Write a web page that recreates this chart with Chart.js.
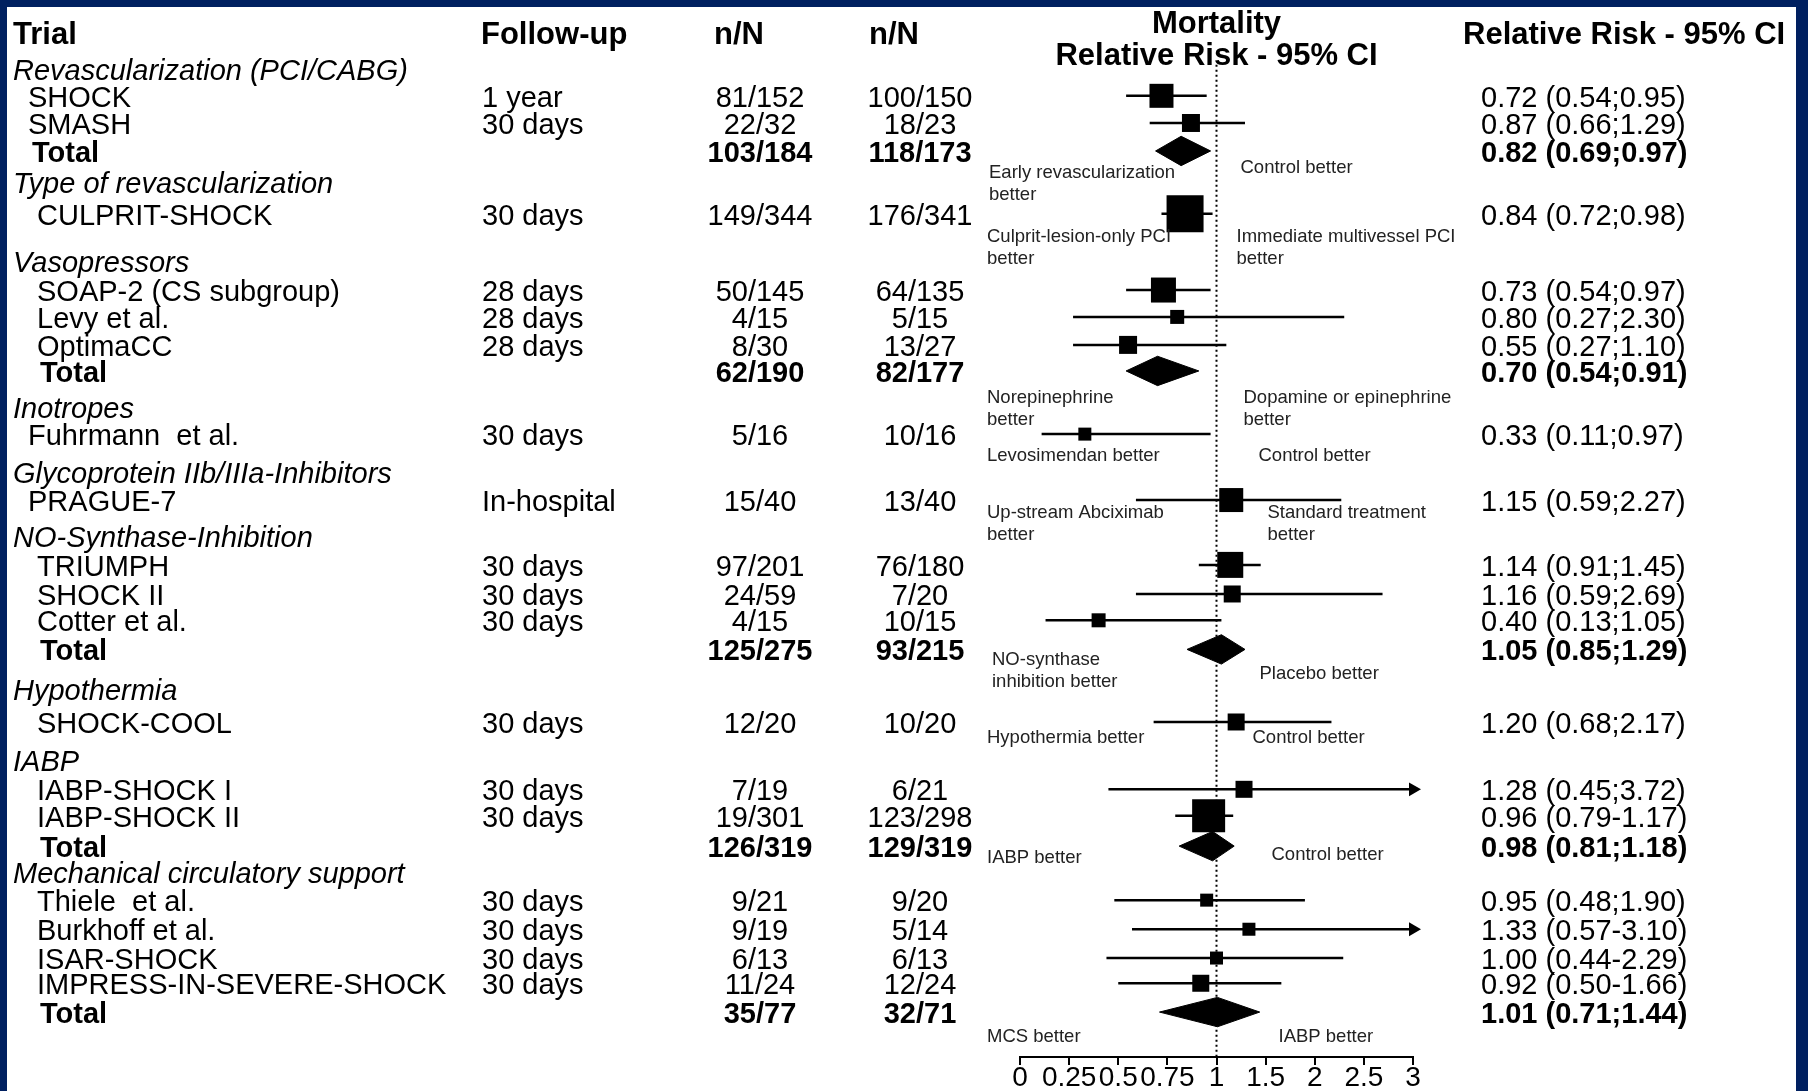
<!DOCTYPE html>
<html>
<head>
<meta charset="utf-8">
<title>Mortality – Relative Risk (95% CI) forest plot</title>
<script src="https://cdn.jsdelivr.net/npm/chart.js@4.4.1/dist/chart.umd.min.js"></script>
<style>
  html, body { margin: 0; padding: 0; background: #ffffff; }
  #wrap { position: relative; width: 1808px; height: 1091px; }
  canvas { display: block; }
</style>
</head>
<body>
<div id="wrap"><canvas id="chart"></canvas></div>
<script>
// ================= DATA =================
const columnHeaders = ['Trial', 'Follow-up', 'n/N', 'n/N', 'Relative Risk - 95% CI'];
const plotTitle = ['Mortality', 'Relative Risk - 95% CI'];

const trialLabels = [
  'Revascularization (PCI/CABG)', 'SHOCK', 'SMASH', 'Total',
  'Type of revascularization', 'CULPRIT-SHOCK',
  'Vasopressors', 'SOAP-2 (CS subgroup)', 'Levy et al.', 'OptimaCC', 'Total',
  'Inotropes', 'Fuhrmann  et al.',
  'Glycoprotein IIb/IIIa-Inhibitors', 'PRAGUE-7',
  'NO-Synthase-Inhibition', 'TRIUMPH', 'SHOCK II', 'Cotter et al.', 'Total',
  'Hypothermia', 'SHOCK-COOL',
  'IABP', 'IABP-SHOCK I', 'IABP-SHOCK II', 'Total',
  'Mechanical circulatory support', 'Thiele  et al.', 'Burkhoff et al.', 'ISAR-SHOCK', 'IMPRESS-IN-SEVERE-SHOCK', 'Total'
];
const rowKinds = [
  'group', 'study', 'study', 'total',
  'group', 'study',
  'group', 'study', 'study', 'study', 'total',
  'group', 'study',
  'group', 'study',
  'group', 'study', 'study', 'study', 'total',
  'group', 'study',
  'group', 'study', 'study', 'total',
  'group', 'study', 'study', 'study', 'study', 'total'
];
const followUp = [
  '', '1 year', '30 days', '',
  '', '30 days',
  '', '28 days', '28 days', '28 days', '',
  '', '30 days',
  '', 'In-hospital',
  '', '30 days', '30 days', '30 days', '',
  '', '30 days',
  '', '30 days', '30 days', '',
  '', '30 days', '30 days', '30 days', '30 days', ''
];
const eventsTreatment = [
  '', '81/152', '22/32', '103/184',
  '', '149/344',
  '', '50/145', '4/15', '8/30', '62/190',
  '', '5/16',
  '', '15/40',
  '', '97/201', '24/59', '4/15', '125/275',
  '', '12/20',
  '', '7/19', '19/301', '126/319',
  '', '9/21', '9/19', '6/13', '11/24', '35/77'
];
const eventsControl = [
  '', '100/150', '18/23', '118/173',
  '', '176/341',
  '', '64/135', '5/15', '13/27', '82/177',
  '', '10/16',
  '', '13/40',
  '', '76/180', '7/20', '10/15', '93/215',
  '', '10/20',
  '', '6/21', '123/298', '129/319',
  '', '9/20', '5/14', '6/13', '12/24', '32/71'
];
const relRisk = [
  null, 0.72, 0.87, 0.82,
  null, 0.84,
  null, 0.73, 0.80, 0.55, 0.70,
  null, 0.33,
  null, 1.15,
  null, 1.14, 1.16, 0.40, 1.05,
  null, 1.20,
  null, 1.28, 0.96, 0.98,
  null, 0.95, 1.33, 1.00, 0.92, 1.01
];
const ciLower = [
  null, 0.54, 0.66, 0.69,
  null, 0.72,
  null, 0.54, 0.27, 0.27, 0.54,
  null, 0.11,
  null, 0.59,
  null, 0.91, 0.59, 0.13, 0.85,
  null, 0.68,
  null, 0.45, 0.79, 0.81,
  null, 0.48, 0.57, 0.44, 0.50, 0.71
];
const ciUpper = [
  null, 0.95, 1.29, 0.97,
  null, 0.98,
  null, 0.97, 2.30, 1.10, 0.91,
  null, 0.97,
  null, 2.27,
  null, 1.45, 2.69, 1.05, 1.29,
  null, 2.17,
  null, 3.72, 1.17, 1.18,
  null, 1.90, 3.10, 2.29, 1.66, 1.44
];
const ciSeparator = [
  '', ';', ';', ';',
  '', ';',
  '', ';', ';', ';', ';',
  '', ';',
  '', ';',
  '', ';', ';', ';', ';',
  '', ';',
  '', ';', '-', ';',
  '', ';', '-', '-', '-', ';'
];
const xTickValues = [0, 0.25, 0.5, 0.75, 1, 1.5, 2, 2.5, 3];
const xTickLabels = ['0', '0.25', '0.5', '0.75', '1', '1.5', '2', '2.5', '3'];

const annotations = [
  { left: ['Early revascularization', 'better'], right: ['Control better'], leftRow: 3.75, rightRow: 3.57, leftDx: -31, rightDx: 24 },
  { left: ['Culprit-lesion-only PCI', 'better'], right: ['Immediate multivessel PCI', 'better'], leftRow: 6.06, rightRow: 6.06, leftDx: -33, rightDx: 20 },
  { left: ['Norepinephrine', 'better'], right: ['Dopamine or epinephrine', 'better'], leftRow: 11.88, rightRow: 11.88, leftDx: -33, rightDx: 27 },
  { left: ['Levosimendan better'], right: ['Control better'], leftRow: 13.97, rightRow: 13.97, leftDx: -33, rightDx: 42 },
  { left: ['Up-stream Abciximab', 'better'], right: ['Standard treatment', 'better'], leftRow: 16.03, rightRow: 16.03, leftDx: -33, rightDx: 51 },
  { left: ['NO-synthase', 'inhibition better'], right: ['Placebo better'], leftRow: 21.34, rightRow: 21.84, leftDx: -28, rightDx: 43 },
  { left: ['Hypothermia better'], right: ['Control better'], leftRow: 24.15, rightRow: 24.15, leftDx: -33, rightDx: 36 },
  { left: ['IABP better'], right: ['Control better'], leftRow: 28.48, rightRow: 28.38, leftDx: -33, rightDx: 55 },
  { left: ['MCS better'], right: ['IABP better'], leftRow: 34.95, rightRow: 34.95, leftDx: -33, rightDx: 62 }
];

// ================= LAYOUT / STYLE =================
const rowPos = [
  0, 0.97, 1.95, 2.96,
  4.08, 5.23,
  6.93, 7.98, 8.95, 9.96, 10.9,
  12.2, 13.18,
  14.55, 15.56,
  16.86, 17.9, 18.95, 19.9, 20.95,
  22.38, 23.57,
  24.95, 26.0, 26.95, 28.05,
  28.99, 30.0, 31.05, 32.09, 33.0, 34.04
];
const labelIndent = [
  13, 28, 28, 32,
  13, 37,
  13, 37, 37, 37, 40,
  13, 28,
  13, 28,
  13, 37, 37, 37, 40,
  13, 37,
  13, 37, 37, 40,
  13, 37, 37, 37, 37, 40
];
const markerSide = [
  null, 24, 18, null,
  null, 37,
  null, 25, 14, 18, null,
  null, 13,
  null, 24,
  null, 26, 17, 14, null,
  null, 17,
  null, 17, 33, null,
  null, 13, 13, 13, 17, null
];
const HEADER_ROW = -1.2;
const Y_MIN = 0.15, Y_MAX = 35.66;
const REF_TOP = -0.15;
const DIAMOND_HALF = 0.53;
const TEXT_DY = 3;
const headerX = [13, 481, 714, 869, 1463];
const followUpX = 482, col1X = 760, col2X = 920, rrX = 1481;
const FONT = "'Liberation Sans', Arial, Helvetica, sans-serif";
const font = (size, weight = 'normal', style = 'normal') => `${style} ${weight} ${size}px ${FONT}`;

// ================= CUSTOM SPLIT SCALE (0-1 and 1-3 take equal width) =================
class SplitScale extends Chart.LinearScale {
  toU(v) { return v <= 1 ? v : 1 + (v - 1) / 2; }
  fromU(u) { return u <= 1 ? u : 1 + (u - 1) * 2; }
  determineDataLimits() {
    super.determineDataLimits();
    this.min = this.toU(this.min);
    this.max = this.toU(this.max);
  }
  buildTicks() { return xTickValues.map(v => ({ value: v })); }
  getPixelForValue(v) {
    if (v === null || v === undefined || isNaN(v)) return NaN;
    return super.getPixelForValue(this.toU(v));
  }
  getValueForPixel(p) { return this.fromU(super.getValueForPixel(p)); }
}
SplitScale.id = 'split';
SplitScale.defaults = Chart.LinearScale.defaults;
Chart.register(SplitScale);

// ================= DATASETS =================
const studyIdx = rowKinds.map((k, i) => (k === 'study' ? i : -1)).filter(i => i >= 0);
const totalIdx = rowKinds.map((k, i) => (k === 'total' ? i : -1)).filter(i => i >= 0);
const X_MAX = xTickValues[xTickValues.length - 1];

const datasets = [];
datasets.push({
  label: 'Trials',
  data: studyIdx.map(i => ({ x: relRisk[i], y: rowPos[i] })),
  pointStyle: 'rect',
  pointRadius: studyIdx.map(i => markerSide[i] / Math.SQRT2),
  pointBackgroundColor: '#000',
  pointBorderWidth: 0,
  showLine: false,
  clip: false
});
totalIdx.forEach(i => {
  const r = rowPos[i];
  datasets.push({
    label: 'Pooled ' + i,
    data: [
      { x: ciLower[i], y: r },
      { x: relRisk[i], y: r - DIAMOND_HALF },
      { x: ciUpper[i], y: r },
      { x: relRisk[i], y: r + DIAMOND_HALF },
      { x: ciLower[i], y: r }
    ],
    showLine: true,
    fill: 'shape',
    backgroundColor: '#000',
    borderColor: '#000',
    borderWidth: 1,
    pointRadius: 0,
    tension: 0,
    clip: false
  });
});
datasets.push({
  label: 'Arrows',
  data: studyIdx.filter(i => ciUpper[i] > X_MAX).map(i => ({ x: X_MAX, y: rowPos[i] })),
  pointStyle: 'triangle',
  pointRotation: 90,
  pointRadius: 8,
  pointBackgroundColor: '#000',
  pointBorderWidth: 0,
  showLine: false,
  clip: false
});
studyIdx.forEach(i => {
  datasets.push({
    label: 'CI ' + trialLabels[i],
    data: [
      { x: ciLower[i], y: rowPos[i] },
      { x: Math.min(ciUpper[i], X_MAX), y: rowPos[i] }
    ],
    showLine: true,
    borderColor: '#000',
    borderWidth: 2.5,
    pointRadius: 0,
    clip: false
  });
});
datasets.push({
  label: 'No effect',
  data: [{ x: 1, y: REF_TOP }, { x: 1, y: Y_MAX }],
  showLine: true,
  borderColor: '#000',
  borderWidth: 2,
  borderDash: [2, 3],
  pointRadius: 0,
  clip: false
});

// ================= TEXT TABLE PLUGIN =================
function rrLabel(i) {
  return `${relRisk[i].toFixed(2)} (${ciLower[i].toFixed(2)}${ciSeparator[i]}${ciUpper[i].toFixed(2)})`;
}
const framePlugin = {
  id: 'frame',
  beforeDraw(chart) {
    const { ctx, width, height } = chart;
    ctx.save();
    ctx.fillStyle = '#002060';
    ctx.fillRect(0, 0, width, height);
    ctx.fillStyle = '#ffffff';
    ctx.fillRect(7, 7, 1796 - 7, height - 7);
    ctx.restore();
  }
};
const tablePlugin = {
  id: 'forestTable',
  afterDraw(chart) {
    const { ctx, chartArea, scales: { x, y } } = chart;
    ctx.save();
    ctx.fillStyle = '#000';
    ctx.textBaseline = 'middle';
    ctx.textAlign = 'left';
    const hy = y.getPixelForValue(HEADER_ROW);
    ctx.font = font(31, 'bold');
    columnHeaders.forEach((t, k) => ctx.fillText(t, headerX[k], hy));

    trialLabels.forEach((lab, i) => {
      const py = y.getPixelForValue(rowPos[i]) + TEXT_DY;
      const kind = rowKinds[i];
      ctx.font = font(29, kind === 'total' ? 'bold' : 'normal', kind === 'group' ? 'italic' : 'normal');
      ctx.textAlign = 'left';
      ctx.fillText(lab, labelIndent[i], py);
      if (kind === 'group') return;
      ctx.fillText(followUp[i], followUpX, py);
      ctx.textAlign = 'center';
      ctx.fillText(eventsTreatment[i], col1X, py);
      ctx.fillText(eventsControl[i], col2X, py);
      ctx.textAlign = 'left';
      ctx.fillText(rrLabel(i), rrX, py);
    });

    ctx.font = font(18.5);
    ctx.fillStyle = '#222';
    ctx.textAlign = 'left';
    const x1 = x.getPixelForValue(1);
    annotations.forEach(a => {
      const ly = y.getPixelForValue(a.leftRow);
      a.left.forEach((t, k) => ctx.fillText(t, chartArea.left + a.leftDx, ly + k * 22));
      const ry = y.getPixelForValue(a.rightRow);
      a.right.forEach((t, k) => ctx.fillText(t, x1 + a.rightDx, ry + k * 22));
    });
    ctx.restore();
  }
};

// ================= CHART =================
Chart.defaults.font.family = FONT;
Chart.defaults.color = '#000';

new Chart(document.getElementById('chart'), {
  type: 'scatter',
  data: { datasets },
  options: {
    responsive: true,
    maintainAspectRatio: false,
    devicePixelRatio: 1,
    animation: false,
    events: [],
    layout: { padding: { left: 1020, right: 395, top: 0, bottom: 0 } },
    plugins: {
      legend: { display: false },
      tooltip: { enabled: false },
      title: {
        display: true,
        text: plotTitle,
        color: '#000',
        font: { size: 31, weight: 'bold', lineHeight: 1.05 },
        padding: { top: 8, bottom: 0 }
      }
    },
    scales: {
      x: {
        type: 'split',
        min: 0,
        max: 3,
        grid: { display: true, drawOnChartArea: false, drawTicks: true, tickLength: 8, color: '#000', lineWidth: 2 },
        border: { display: true, color: '#000', width: 2 },
        ticks: {
          autoSkip: false,
          maxRotation: 0,
          minRotation: 0,
          padding: 0,
          color: '#000',
          font: { size: 28, lineHeight: 0.93 },
          callback: (v, i) => xTickLabels[i]
        }
      },
      y: {
        type: 'linear',
        display: false,
        reverse: true,
        min: Y_MIN,
        max: Y_MAX
      }
    }
  },
  plugins: [framePlugin, tablePlugin]
});
</script>
</body>
</html>
